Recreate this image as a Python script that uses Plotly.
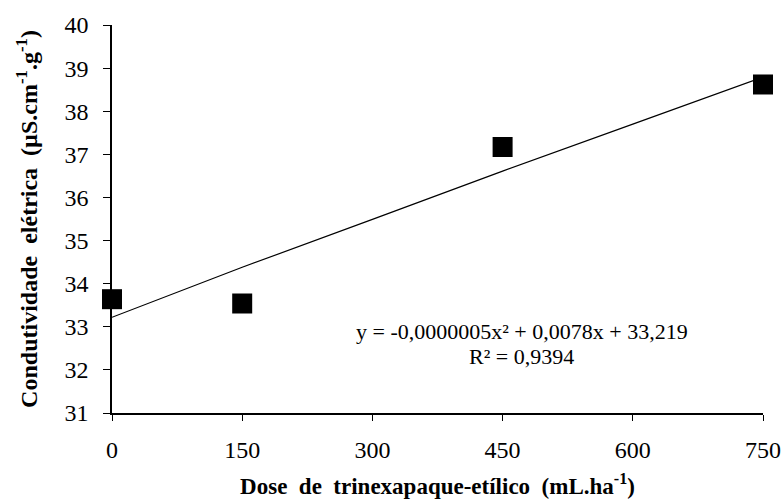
import plotly.graph_objects as go

doses = [0, 150, 450, 750]
condutividade = [33.64, 33.54, 37.17, 38.62]

trend_x = [0, 150, 300, 450, 600, 750]
trend_y = [33.22, 34.38, 35.49, 36.61, 37.70, 38.79]

x_ticks = [0, 150, 300, 450, 600, 750]
y_ticks = [31, 32, 33, 34, 35, 36, 37, 38, 39, 40]

equation = "y = -0,0000005x² + 0,0078x + 33,219"
r2 = "R² = 0,9394"

font = "Liberation Serif"
sp = "\u00a0 "

fig = go.Figure()
fig.add_trace(go.Scatter(x=trend_x, y=trend_y, mode="lines",
                         line=dict(color="black", width=1.2), showlegend=False, cliponaxis=False))
fig.add_trace(go.Scatter(x=doses, y=condutividade, mode="markers",
                         marker=dict(symbol="square", size=20, color="black"),
                         showlegend=False, cliponaxis=False))

fig.add_annotation(x=472, y=32.88, text=equation, showarrow=False,
                   font=dict(family=font, size=22, color="black"))
fig.add_annotation(x=472, y=32.3, text=r2, showarrow=False,
                   font=dict(family=font, size=22, color="black"))

fig.update_layout(
    width=784, height=499,
    margin=dict(l=112, r=21, t=25, b=86),
    paper_bgcolor="white", plot_bgcolor="white",
    font=dict(family=font, color="black", size=22),
)
fig.update_xaxes(range=[0, 750], tickvals=x_ticks, ticks="outside", ticklen=6,
                 tickcolor="black", showline=True, linecolor="black", linewidth=2,
                 showgrid=False, zeroline=False, ticklabelstandoff=8, automargin=False,
                 tickfont=dict(family=font, size=24, color="black"),
                 title=dict(text="<b>Dose" + sp + "de" + sp + "trinexapaque-etílico" + sp + "(mL.ha<sup>-1</sup>)</b>",
                            font=dict(family=font, size=23, color="black"), standoff=16))
fig.update_yaxes(range=[31, 40], tickvals=y_ticks, ticks="outside", ticklen=7,
                 tickcolor="black", showline=True, linecolor="black", linewidth=1.5,
                 showgrid=False, zeroline=False, ticklabelstandoff=10, automargin=False,
                 tickfont=dict(family=font, size=24, color="black"),
                 title=dict(text="<b>Condutividade" + sp + "elétrica" + sp + "(µS.cm<sup>-1</sup>.g<sup>-1</sup>)</b>",
                            font=dict(family=font, size=24, color="black"), standoff=20))

fig.write_html("out.html")
